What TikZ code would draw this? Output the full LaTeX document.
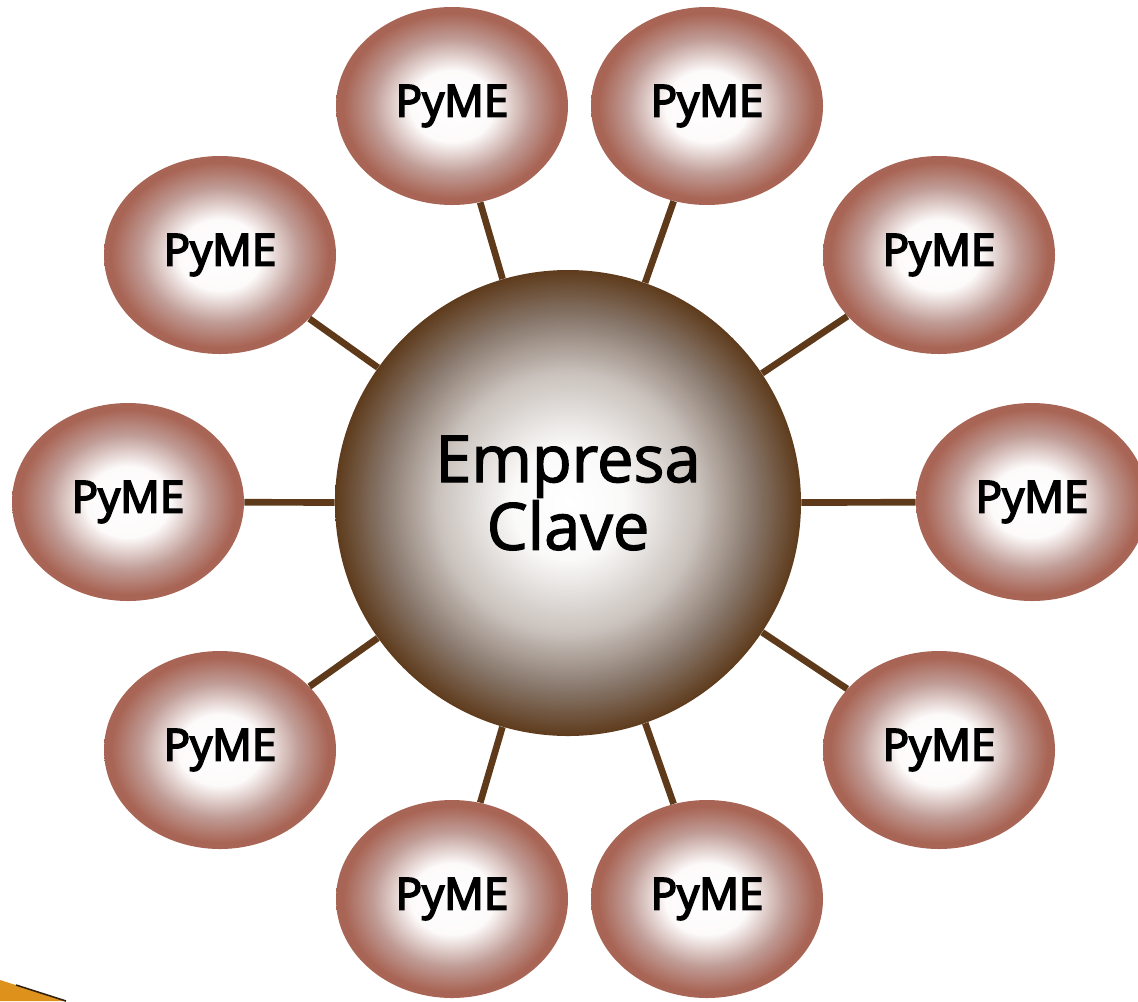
\documentclass[tikz,border=0pt]{standalone}
\usepackage{fontspec}
\setmainfont{Open Sans}
\newfontfamily\pymefont{Open Sans}[FakeBold=4]
\newfontfamily\clavefont{Open Sans}[FakeBold=2]
\usepackage{xcolor}
\definecolor{pymered}{RGB}{168,100,84}
\definecolor{pymemid}{RGB}{192,156,150}
\definecolor{claveedge}{RGB}{94,59,28}
\definecolor{clavemid}{RGB}{135,118,106}
\definecolor{linkbrown}{RGB}{94,58,26}
\definecolor{cornerorange}{RGB}{222,146,28}
\pgfdeclareradialshading{pymeshade}{\pgfpoint{0bp}{0bp}}{color(0bp)=(white); color(9bp)=(white!97!pymered); color(17bp)=(pymemid); color(23.5bp)=(pymered); color(50bp)=(pymered)}
\pgfdeclareradialshading{claveshade}{\pgfpoint{0bp}{0bp}}{color(0bp)=(white); color(6bp)=(white!96!clavemid); color(14bp)=(white!55!clavemid); color(20bp)=(clavemid); color(25bp)=(claveedge); color(50bp)=(claveedge)}
\newlength{\pxu}
\setlength{\pxu}{0.02cm}
\tikzset{
  pyme/.style={ellipse, minimum width=232\pxu, minimum height=198\pxu, inner sep=0pt,
    shading=pymeshade, font=\fontsize{25}{26}\selectfont\pymefont},
  clave/.style={circle, minimum size=466\pxu, inner sep=0pt, shading=claveshade},
  link/.style={draw=linkbrown, line width=3.8pt}
}
\usetikzlibrary{shapes.geometric}
\begin{document}
\begin{tikzpicture}[x=0.02cm,y=-0.02cm]
\useasboundingbox (0,0) rectangle (1138,1001);
% Corner
\fill[cornerorange] (0,980) -- (66,1001) -- (0,1001) -- cycle;
\draw[black!75!brown, line width=0.9pt] (16,985) -- (66,1001);
% Center
\node[clave] (emp) at (568,503) {};
\node[font=\fontsize{37}{38.5}\selectfont\clavefont, align=center] (emptext) at (568,493) {Empresa\\Clave};
% PyME
\node[pyme] (pyme1) at (452,106) {PyME};
\node[pyme] (pyme2) at (707,106) {PyME};
\node[pyme] (pyme3) at (220,255) {PyME};
\node[pyme] (pyme4) at (939,255) {PyME};
\node[pyme] (pyme5) at (128,502) {PyME};
\node[pyme] (pyme6) at (1032,502) {PyME};
\node[pyme] (pyme7) at (220,750) {PyME};
\node[pyme] (pyme8) at (939,750) {PyME};
\node[pyme] (pyme9) at (452,899) {PyME};
\node[pyme] (pyme10) at (707,899) {PyME};
% Links
\draw[link] (emp) -- (pyme1);
\draw[link] (emp) -- (pyme2);
\draw[link] (emp) -- (pyme3);
\draw[link] (emp) -- (pyme4);
\draw[link] (emp) -- (pyme5);
\draw[link] (emp) -- (pyme6);
\draw[link] (emp) -- (pyme7);
\draw[link] (emp) -- (pyme8);
\draw[link] (emp) -- (pyme9);
\draw[link] (emp) -- (pyme10);
\end{tikzpicture}
\end{document}
